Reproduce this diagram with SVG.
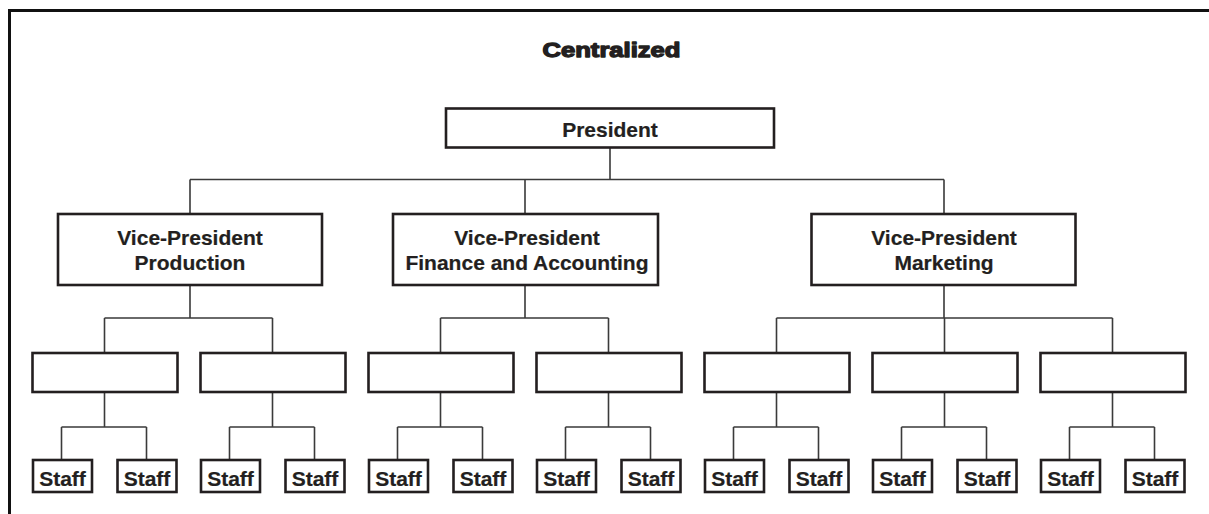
<svg xmlns="http://www.w3.org/2000/svg" width="1209" height="514" viewBox="0 0 1209 514">
<style>
.box{fill:#fff;stroke:#231f20;stroke-width:2.6}
.lbl{font-family:"Liberation Sans",Arial,sans-serif;font-weight:bold;font-size:21px;fill:#231f20;stroke:#231f20;stroke-width:0.2;text-anchor:middle}
.title{font-family:"Liberation Sans",Arial,sans-serif;font-weight:900;font-size:20px;fill:#231f20;stroke:#231f20;stroke-width:1.3;stroke-linejoin:round;text-anchor:middle}
.conn{fill:none;stroke:#3a3a3a;stroke-width:1.6}
.frame{fill:none;stroke:#111;stroke-width:3}
</style>
<rect width="1209" height="514" fill="#fff"/>
<path class="frame" d="M9.5 514 V10.5 H1209"/>
<text class="title" x="611.5" y="57.3" textLength="138" lengthAdjust="spacingAndGlyphs">Centralized</text>

<g id="connectors">
<path class="conn" d="M610 148 V179.5 M190 179.5 H944 M190 179.5 V213 M525 179.5 V213 M944 179.5 V213"/>
<path class="conn" d="M190 286 V318 M104.5 318 H272.5 M104.5 318 V352 M272.5 318 V352"/>
<path class="conn" d="M525 286 V318 M440.5 318 H608.5 M440.5 318 V352 M608.5 318 V352"/>
<path class="conn" d="M944 286 V318 M776.5 318 H1112.5 M776.5 318 V352 M944.5 318 V352 M1112.5 318 V352"/>
<path class="conn" d="M104.5 393 V427 M61.5 427 H146.5 M61.5 427 V459 M146.5 427 V459"/>
<path class="conn" d="M272.5 393 V427 M229.5 427 H314.5 M229.5 427 V459 M314.5 427 V459"/>
<path class="conn" d="M440.5 393 V427 M397.5 427 H482.5 M397.5 427 V459 M482.5 427 V459"/>
<path class="conn" d="M608.5 393 V427 M565.5 427 H650.5 M565.5 427 V459 M650.5 427 V459"/>
<path class="conn" d="M776.5 393 V427 M733.5 427 H818.5 M733.5 427 V459 M818.5 427 V459"/>
<path class="conn" d="M944.5 393 V427 M901.5 427 H986.5 M901.5 427 V459 M986.5 427 V459"/>
<path class="conn" d="M1112.5 393 V427 M1069.5 427 H1154.5 M1069.5 427 V459 M1154.5 427 V459"/>
</g>

<g id="president"><rect class="box" x="446" y="108.5" width="328" height="39"/><text class="lbl" x="610" y="136.5">President</text></g>
<g id="vp-production"><rect class="box" x="58" y="214" width="264" height="71"/><text class="lbl" x="190" y="245">Vice-President</text><text class="lbl" x="190" y="270">Production</text></g>
<g id="vp-finance"><rect class="box" x="393" y="214" width="265" height="71"/><text class="lbl" x="527" y="245">Vice-President</text><text class="lbl" x="527" y="270">Finance and Accounting</text></g>
<g id="vp-marketing"><rect class="box" x="811.5" y="214" width="264" height="71"/><text class="lbl" x="944" y="245">Vice-President</text><text class="lbl" x="944" y="270">Marketing</text></g>

<g id="mid-1"><rect class="box" x="32.5" y="353" width="145" height="39"/></g>
<g id="mid-2"><rect class="box" x="200.5" y="353" width="145" height="39"/></g>
<g id="mid-3"><rect class="box" x="368.5" y="353" width="145" height="39"/></g>
<g id="mid-4"><rect class="box" x="536.5" y="353" width="145" height="39"/></g>
<g id="mid-5"><rect class="box" x="704.5" y="353" width="145" height="39"/></g>
<g id="mid-6"><rect class="box" x="872.5" y="353" width="145" height="39"/></g>
<g id="mid-7"><rect class="box" x="1040.5" y="353" width="145" height="39"/></g>

<g id="staff-1"><rect class="box" x="33" y="460" width="59" height="32"/><text class="lbl" x="62.5" y="485.5">Staff</text></g>
<g id="staff-2"><rect class="box" x="117.5" y="460" width="59" height="32"/><text class="lbl" x="147" y="485.5">Staff</text></g>
<g id="staff-3"><rect class="box" x="201" y="460" width="59" height="32"/><text class="lbl" x="230.5" y="485.5">Staff</text></g>
<g id="staff-4"><rect class="box" x="285.5" y="460" width="59" height="32"/><text class="lbl" x="315" y="485.5">Staff</text></g>
<g id="staff-5"><rect class="box" x="369" y="460" width="59" height="32"/><text class="lbl" x="398.5" y="485.5">Staff</text></g>
<g id="staff-6"><rect class="box" x="453.5" y="460" width="59" height="32"/><text class="lbl" x="483" y="485.5">Staff</text></g>
<g id="staff-7"><rect class="box" x="537" y="460" width="59" height="32"/><text class="lbl" x="566.5" y="485.5">Staff</text></g>
<g id="staff-8"><rect class="box" x="621.5" y="460" width="59" height="32"/><text class="lbl" x="651" y="485.5">Staff</text></g>
<g id="staff-9"><rect class="box" x="705" y="460" width="59" height="32"/><text class="lbl" x="734.5" y="485.5">Staff</text></g>
<g id="staff-10"><rect class="box" x="789.5" y="460" width="59" height="32"/><text class="lbl" x="819" y="485.5">Staff</text></g>
<g id="staff-11"><rect class="box" x="873" y="460" width="59" height="32"/><text class="lbl" x="902.5" y="485.5">Staff</text></g>
<g id="staff-12"><rect class="box" x="957.5" y="460" width="59" height="32"/><text class="lbl" x="987" y="485.5">Staff</text></g>
<g id="staff-13"><rect class="box" x="1041" y="460" width="59" height="32"/><text class="lbl" x="1070.5" y="485.5">Staff</text></g>
<g id="staff-14"><rect class="box" x="1125.5" y="460" width="59" height="32"/><text class="lbl" x="1155" y="485.5">Staff</text></g>
</svg>
